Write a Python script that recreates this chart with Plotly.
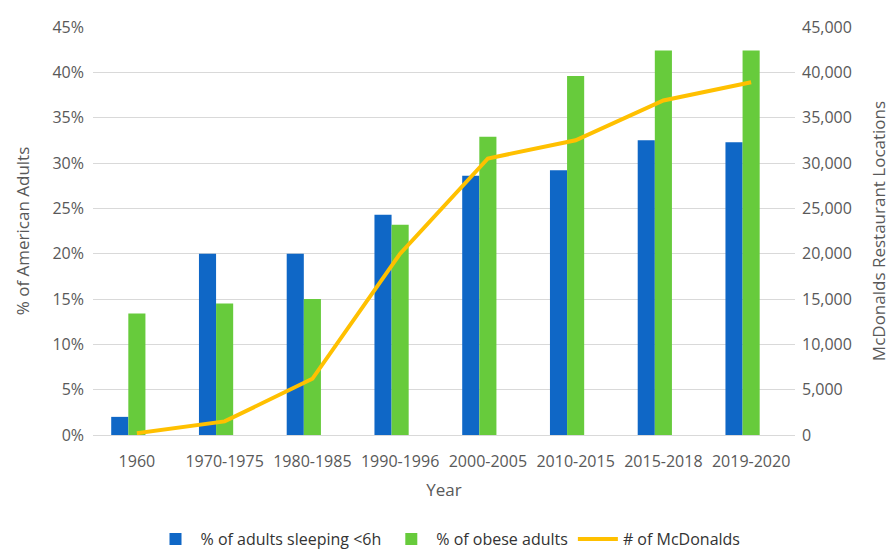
import plotly.graph_objects as go

years = ["1960", "1970-1975", "1980-1985", "1990-1996", "2000-2005", "2010-2015", "2015-2018", "2019-2020"]
sleep_pct = [2.0, 20.0, 20.0, 24.3, 28.6, 29.2, 32.5, 32.3]
obese_pct = [13.4, 14.5, 15.0, 23.2, 32.9, 39.6, 42.4, 42.4]
mcdonalds = [200, 1500, 6200, 20000, 30500, 32500, 36900, 38900]

font_family = "Open Sans, Liberation Sans, sans-serif"
grey = "#595959"
bar_w = 0.195

fig = go.Figure()
fig.add_trace(go.Bar(x=years, y=sleep_pct, name="% of adults sleeping <6h",
                     marker_color="#0F67C6", marker_line_width=0,
                     width=bar_w, offset=-1.5 * bar_w, yaxis="y"))
fig.add_trace(go.Bar(x=years, y=obese_pct, name="% of obese adults",
                     marker_color="#67CB3C", marker_line_width=0,
                     width=bar_w, offset=-0.5 * bar_w, yaxis="y"))
fig.add_trace(go.Scatter(x=years, y=mcdonalds, name="# of McDonalds", mode="lines",
                         line=dict(color="#FFC000", width=4), yaxis="y2"))

fig.update_layout(
    width=896, height=556,
    margin=dict(l=93, r=101, t=27, b=121, autoexpand=False),
    plot_bgcolor="white", paper_bgcolor="white",
    font=dict(family=font_family, size=16, color=grey),
    barmode="overlay",
    xaxis=dict(title=dict(text="Year", font=dict(size=17, color=grey), standoff=12),
               showline=True, linecolor="#d9d9d9", ticks="", ticklabelstandoff=12,
               tickfont=dict(size=16, color=grey)),
    yaxis=dict(title=dict(text="% of American Adults", font=dict(size=17, color=grey), standoff=18),
               range=[0, 45], dtick=5, ticksuffix="%", showgrid=True, gridcolor="#d9d9d9",
               zeroline=False, ticklabelstandoff=8, tickfont=dict(size=16, color=grey)),
    yaxis2=dict(title=dict(text="McDonalds Restaurant Locations", font=dict(size=17, color=grey), standoff=22),
                overlaying="y", side="right", range=[0, 45000], dtick=5000, tickformat=",",
                showgrid=False, zeroline=False, ticklabelstandoff=6, tickfont=dict(size=16, color=grey)),
    legend=dict(orientation="h", xref="container", x=0.5, xanchor="center",
                yref="container", y=0.0, yanchor="bottom",
                font=dict(size=16, color="#333333"), traceorder="normal",
                itemwidth=40),
    showlegend=True,
)

fig.write_html("out.html")
